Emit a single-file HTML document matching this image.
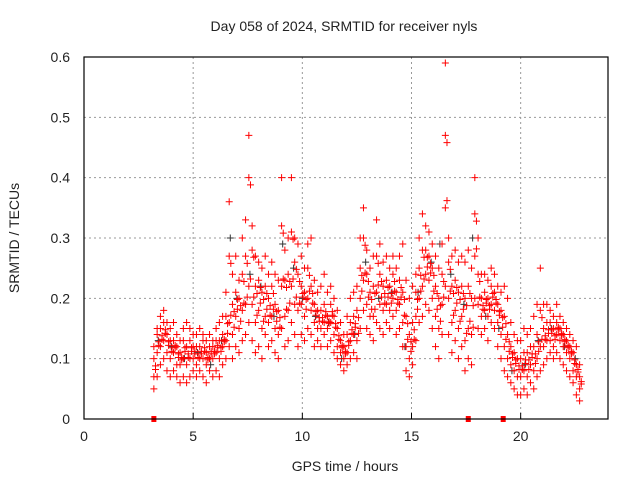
<!DOCTYPE html>
<html><head><meta charset="utf-8"><style>
body{margin:0;background:#fff}
svg text{font-family:"Liberation Sans","DejaVu Sans",sans-serif;font-size:14px;fill:#222}
</style></head><body>
<svg id="c" width="640" height="480" xmlns="http://www.w3.org/2000/svg">
<text x="344" y="31" text-anchor="middle">Day 058 of 2024, SRMTID for receiver nyls</text>
<text transform="translate(19,238) rotate(-90)" text-anchor="middle">SRMTID / TECUs</text>
<text x="345" y="471" text-anchor="middle">GPS time / hours</text>
<g id="grid"></g><g id="marks"></g><g id="axes"></g>
</svg>
<script>
const hours=[3.2,3.35,3.5,3.65,3.8,3.95,4.1,4.25,4.4,4.55,4.7,4.85,5.0,5.15,5.3,5.45,5.6,5.75,5.9,6.05,6.2,6.35,6.5,6.65,6.8,6.95,7.1,7.25,7.4,7.55,7.7,7.85,8.0,8.15,8.3,8.45,8.6,8.75,8.9,9.05,9.2,9.35,9.5,9.65,9.8,9.95,10.1,10.25,10.4,10.55,10.7,10.85,11.0,11.15,11.3,11.45,11.6,11.75,11.9,12.05,12.2,12.35,12.5,12.65,12.8,12.95,13.1,13.25,13.4,13.55,13.7,13.85,14.0,14.15,14.3,14.45,14.6,14.75,14.9,15.05,15.2,15.35,15.5,15.65,15.8,15.95,16.1,16.25,16.4,16.55,16.7,16.85,17.0,17.15,17.3,17.45,17.6,17.75,17.9,18.05,18.2,18.35,18.5,18.65,18.8,18.95,19.1,19.25,19.4,19.55,19.7,19.85,20.0,20.15,20.3,20.45,20.6,20.75,20.9,21.05,21.2,21.35,21.5,21.65,21.8,21.95,22.1,22.25,22.4,22.55,22.7];
const lowValues=[0.05,0.07,0.09,0.10,0.08,0.07,0.08,0.07,0.06,0.07,0.06,0.07,0.08,0.07,0.08,0.07,0.06,0.08,0.07,0.08,0.07,0.09,0.10,0.12,0.10,0.12,0.11,0.13,0.14,0.16,0.13,0.11,0.12,0.10,0.14,0.12,0.13,0.11,0.10,0.15,0.12,0.13,0.16,0.14,0.12,0.14,0.13,0.15,0.14,0.12,0.13,0.12,0.14,0.12,0.13,0.11,0.10,0.09,0.08,0.09,0.10,0.11,0.10,0.15,0.18,0.15,0.14,0.13,0.16,0.15,0.14,0.16,0.15,0.17,0.14,0.15,0.12,0.08,0.07,0.09,0.13,0.16,0.17,0.19,0.18,0.15,0.12,0.10,0.14,0.22,0.14,0.11,0.13,0.10,0.12,0.08,0.10,0.09,0.20,0.15,0.14,0.15,0.13,0.16,0.15,0.12,0.10,0.08,0.07,0.06,0.05,0.04,0.04,0.05,0.04,0.06,0.05,0.07,0.08,0.09,0.10,0.11,0.10,0.11,0.10,0.09,0.08,0.07,0.06,0.04,0.03];
const lowMidValues=[0.07,0.11,0.12,0.13,0.11,0.10,0.11,0.09,0.09,0.10,0.09,0.10,0.10,0.09,0.10,0.10,0.09,0.10,0.10,0.11,0.10,0.12,0.13,0.16,0.14,0.17,0.15,0.18,0.19,0.22,0.19,0.16,0.18,0.15,0.17,0.16,0.17,0.15,0.14,0.22,0.17,0.18,0.22,0.19,0.18,0.19,0.17,0.20,0.18,0.16,0.15,0.15,0.16,0.15,0.16,0.14,0.12,0.11,0.10,0.11,0.13,0.14,0.13,0.20,0.23,0.19,0.17,0.17,0.21,0.19,0.18,0.19,0.18,0.20,0.18,0.19,0.16,0.12,0.10,0.12,0.17,0.20,0.22,0.24,0.23,0.20,0.17,0.15,0.19,0.35,0.20,0.16,0.18,0.15,0.17,0.13,0.15,0.14,0.27,0.19,0.17,0.18,0.17,0.19,0.18,0.16,0.14,0.12,0.10,0.09,0.08,0.07,0.07,0.08,0.07,0.09,0.08,0.10,0.12,0.12,0.13,0.13,0.12,0.14,0.13,0.12,0.11,0.10,0.08,0.07,0.05];
const highMidValues=[0.10,0.14,0.15,0.16,0.14,0.13,0.13,0.12,0.11,0.13,0.12,0.13,0.12,0.12,0.12,0.13,0.11,0.12,0.12,0.13,0.13,0.14,0.17,0.27,0.19,0.21,0.20,0.24,0.27,0.40,0.28,0.22,0.23,0.21,0.22,0.20,0.22,0.19,0.18,0.32,0.23,0.24,0.31,0.26,0.24,0.22,0.21,0.25,0.22,0.19,0.18,0.18,0.19,0.17,0.19,0.17,0.15,0.13,0.12,0.14,0.16,0.17,0.18,0.25,0.30,0.24,0.21,0.22,0.27,0.24,0.22,0.23,0.22,0.24,0.21,0.23,0.21,0.17,0.14,0.16,0.21,0.25,0.28,0.28,0.27,0.25,0.22,0.20,0.24,0.47,0.26,0.22,0.23,0.21,0.22,0.20,0.22,0.20,0.34,0.24,0.20,0.21,0.20,0.22,0.21,0.19,0.18,0.17,0.14,0.12,0.11,0.10,0.10,0.11,0.11,0.12,0.12,0.14,0.18,0.15,0.16,0.16,0.15,0.16,0.15,0.14,0.13,0.12,0.11,0.09,0.07];
const highValues=[0.12,0.15,0.17,0.18,0.16,0.15,0.16,0.14,0.13,0.15,0.16,0.15,0.14,0.14,0.15,0.14,0.13,0.14,0.13,0.15,0.16,0.17,0.21,0.36,0.24,0.27,0.23,0.30,0.33,0.47,0.32,0.27,0.26,0.25,0.27,0.24,0.26,0.24,0.23,0.40,0.28,0.30,0.40,0.30,0.29,0.27,0.25,0.29,0.30,0.23,0.21,0.22,0.24,0.21,0.22,0.20,0.18,0.16,0.14,0.17,0.20,0.21,0.22,0.30,0.35,0.28,0.25,0.27,0.33,0.29,0.26,0.27,0.25,0.27,0.25,0.27,0.29,0.23,0.20,0.22,0.24,0.30,0.34,0.32,0.31,0.29,0.27,0.25,0.29,0.59,0.30,0.27,0.28,0.26,0.27,0.26,0.28,0.25,0.40,0.30,0.24,0.24,0.23,0.25,0.24,0.22,0.21,0.22,0.20,0.16,0.14,0.13,0.13,0.15,0.14,0.15,0.17,0.19,0.25,0.19,0.19,0.18,0.17,0.19,0.17,0.16,0.15,0.14,0.13,0.12,0.09];
const blackHours=[3.4,4.0,4.6,5.2,5.8,6.3,6.7,7.0,7.6,8.1,8.7,9.1,9.6,10.0,10.6,11.2,11.8,12.4,12.9,13.5,14.1,14.7,15.3,15.9,16.3,16.8,17.4,17.8,18.4,19.0,19.6,20.2,20.8,21.4,22.0,22.5];
const blackValues=[0.13,0.12,0.10,0.11,0.09,0.13,0.30,0.20,0.24,0.22,0.17,0.29,0.25,0.20,0.17,0.16,0.10,0.14,0.26,0.20,0.21,0.12,0.21,0.26,0.29,0.24,0.19,0.30,0.17,0.15,0.08,0.09,0.13,0.15,0.12,0.10];
const zeroHours=[3.2,17.6,19.2];
const xTicks=[0,5,10,15,20];
const yTicks=[0,0.1,0.2,0.3,0.4,0.5,0.6];

const X0=84,X1=608,Y0=419,Y1=57,XMAX=24,YMAX=0.6;
const sx=h=>X0+h/XMAX*(X1-X0);
const sy=v=>Y0-v/YMAX*(Y0-Y1);
const NS='http://www.w3.org/2000/svg';
function mk(tag,attrs,parent){const e=document.createElementNS(NS,tag);for(const k in attrs)e.setAttribute(k,attrs[k]);parent.appendChild(e);return e;}
const grid=document.getElementById('grid'),marks=document.getElementById('marks'),axes=document.getElementById('axes');
xTicks.forEach(t=>{
  if(t>0){const g=mk('line',{x1:sx(t),x2:sx(t),y1:Y0,y2:Y1,stroke:'#999','stroke-dasharray':'2,3'},grid);
  
  }
  const tl=mk('line',{x1:sx(t),x2:sx(t),y1:Y0,y2:Y0-6,stroke:'#000'},axes);
  
  
  const tx=mk('text',{x:sx(t),y:Y0+22,'text-anchor':'middle'},axes);tx.textContent=t;
  
  
});
yTicks.forEach(t=>{
  if(t>0&&t<YMAX){const g=mk('line',{x1:X0,x2:X1,y1:sy(t),y2:sy(t),stroke:'#999','stroke-dasharray':'2,3'},grid);
  
  }
  const tx=mk('text',{x:X0-14,y:sy(t)+5,'text-anchor':'end'},axes);tx.textContent=t===0?'0':t.toFixed(1);
  
  
});
const frame=mk('rect',{x:X0,y:Y1,width:X1-X0,height:Y0-Y1,fill:'none',stroke:'#000','stroke-width':1.2},axes);


function cross(h,v,color,name){
  const x=sx(h),y=sy(v);
  const p=mk('path',{d:`M${x-3.5},${y}H${x+3.5}M${x},${y-3.5}V${y+3.5}`,stroke:color,'stroke-width':1,fill:'none'},marks);
  
  
}
blackHours.forEach((h,i)=>cross(h,blackValues[i],'#333','black-point'));
[lowValues,lowMidValues,highMidValues,highValues].forEach((arr,k)=>{
  hours.forEach((h,i)=>{
    if(arr[i]===undefined)return;
    cross(h,arr[i],'#ff0000','red-point');
    if(k===1||k===2)cross(h+0.075,arr[i]+(k===1?0.012:-0.012),'#ff0000','red-point');
  });
});
zeroHours.forEach(h=>{
  const r=mk('rect',{x:sx(h)-2.5,y:Y0-3,width:5,height:6,fill:'#ff0000'},marks);
  
  
});
</script>
</body></html>
